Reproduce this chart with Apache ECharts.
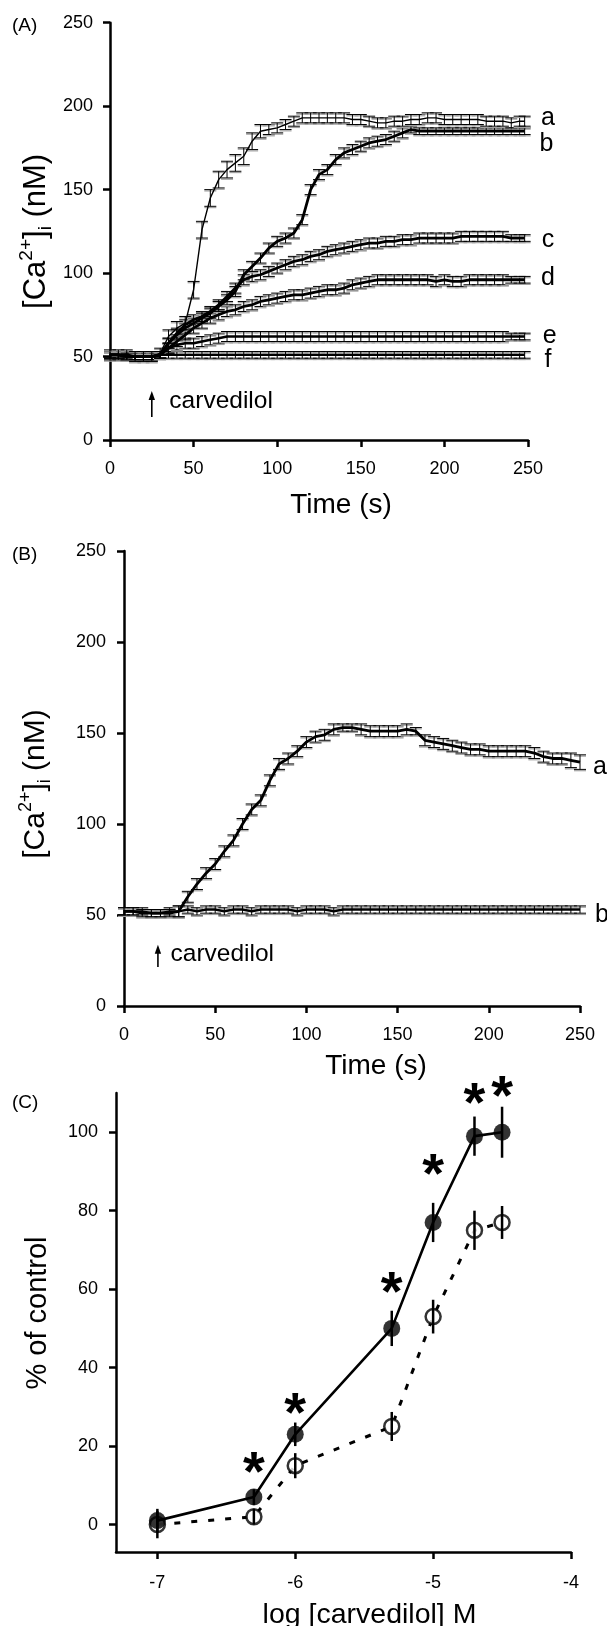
<!DOCTYPE html>
<html><head><meta charset="utf-8">
<script src="https://cdn.jsdelivr.net/npm/echarts@6/dist/echarts.min.js"></script>
<style>html,body{margin:0;padding:0;background:#fff}#c{width:607px;height:1626px}</style>
</head><body><div id="c"></div>
<script>
// ---------- Panel A data (time in s, [Ca2+]i in nM) ----------
const TIME_A = [0,5,10,15,20,25,30,35,40,45,50,55,60,65,70,75,80,85,90,95,100,105,110,115,120,125,130,135,140,145,150,155,160,165,170,175,180,185,190,195,200,205,210,215,220,225,230,235,240,245,248];
const A_a = [51,51,51,50,50,50,52,62,67,70,90,126,145,156,162,166,170,179,185,186,187,189,191,193,193,193,193,193,193,192,192,191,190,190,191,191,192,192,193,193,192,192,192,192,192,191,191,191,190,191,191];
const A_b = [51,51,50,50,50,50,51,58,63,67,70,73,76,80,84,89,99,104,109,115,119,121,124,132,150,159,162,168,172,174,176,178,179,180,182,184,186,185,185,185,185,185,185,185,185,185,185,185,185,185,185];
const A_c = [51,51,51,50,50,50,51,58,64,69,72,74,77,81,86,91,96,98,99,101,103,105,107,108,110,111,113,114,115,116,117,118,118,119,119,120,120,121,121,121,121,121,122,122,122,122,122,122,121,121,121];
const A_d = [51,51,50,50,50,50,51,55,59,63,67,70,73,75,77,78,80,81,83,84,85,86,87,87,88,89,90,90,91,93,94,95,96,96,96,96,96,96,96,95,96,95,95,96,96,96,96,96,96,96,96];
const A_e = [51,51,50,50,50,50,51,55,57,58,58,59,60,61,62,62,62,62,62,62,62,62,62,62,62,62,62,62,62,62,62,62,62,62,62,62,62,62,62,62,62,62,62,62,62,62,62,62,62,62,62];
const A_f = [51,51,50,50,50,50,51,51,51,51,51,51,51,51,51,51,51,51,51,51,51,51,51,51,51,51,51,51,51,51,51,51,51,51,51,51,51,51,51,51,51,51,51,51,51,51,51,51,51,51,51];
const A_a_sem = [3,3,3,3,3,3,3,4,4,4,5,5,5,5,5,5,5,5,4,3,3,3,3,3,3,3,3,3,3,3,3,3,3,3,3,3,3,3,3,3,3,3,3,3,3,3,3,3,3,3,3];
const A_b_sem = [2,2,2,2,2,2,2,3,3,3,3,3,3,3,3,3,3,3,3,3,3,3,3,3,3,3,3,3,3,3,3,3,3,3,3,3,2,2,2,2,2,2,2,2,2,2,2,2,2,2,2];
const A_c_sem = [2,2,2,2,2,2,2,3,3,3,3,3,3,3,3,3,3,3,3,3,3,3,3,3,3,3,3,3,3,3,3,3,3,3,3,3,3,3,3,3,3,3,3,3,3,3,3,3,2,2,2];
const A_d_sem = [2,2,2,2,2,2,2,3,3,3,3,3,3,3,3,3,3,3,3,3,3,3,3,3,3,3,3,3,3,3,3,3,3,3,3,3,3,3,3,3,3,3,3,3,3,3,3,3,2,2,2];
const A_e_sem = [2,2,2,2,2,2,2,3,3,3,3,3,3,3,3,3,3,3,3,3,3,3,3,3,3,3,3,3,3,3,3,3,3,3,3,3,3,3,3,3,3,3,3,3,3,3,3,3,2,2,2];
const A_f_sem = [2,2,2,2,2,2,2,2,2,2,2,2,2,2,2,2,2,2,2,2,2,2,2,2,2,2,2,2,2,2,2,2,2,2,2,2,2,2,2,2,2,2,2,2,2,2,2,2,2,2,2];
const LETTERS_A = ['a','b','c','d','e','f'];
const LETTER_A_T = [262,261,262,262,263,262];
const LETTER_A_V = [193,177,120,97,62,48];

// ---------- Panel B data ----------
const TIME_B = [0,5,10,15,20,25,30,35,40,45,50,55,60,65,70,75,80,85,90,95,100,105,110,115,120,125,130,135,140,145,150,155,160,165,170,175,180,185,190,195,200,205,210,215,220,225,230,235,240,245,250];
const B_a = [52,52,51,51,51,51,52,60,67,73,78,85,91,100,108,113,124,133,136,140,145,148,149,152,153,153,152,151,151,151,151,152,151,146,145,144,143,142,141,141,140,140,140,140,140,139,137,136,136,135,134];
const B_b = [52,52,52,51,51,52,52,53,52,53,53,52,53,53,52,53,53,53,53,52,53,53,53,52,53,53,53,53,53,53,53,53,53,53,53,53,53,53,53,53,53,53,53,53,53,53,53,53,53,53,53];
const B_a_sem = [2,2,2,2,2,2,3,3,3,3,3,3,3,3,3,3,3,3,3,3,3,3,3,3,2,2,3,3,3,3,3,3,2,3,3,3,3,3,3,3,3,3,3,3,3,3,3,3,3,4,4];
const B_b_sem = [2,2,2,2,2,2,3,2,2,2,2,2,2,2,2,2,2,2,2,2,2,2,2,2,2,2,2,2,2,2,2,2,2,2,2,2,2,2,2,2,2,2,2,2,2,2,2,2,2,2,2];
const LETTERS_B = ['a','b'];
const LETTER_B_T = [261,262];
const LETTER_B_V = [131,50];

// carvedilol annotation: arrow [t, vBottom, vTop], text [t, v]
const ARROW_A = [25, 13.8, 29.3];
const TEXT_A = [35.5, 23];
const ARROW_B = [18.6, 21.4, 33.6];
const TEXT_B = [25.5, 28.3];

// ---------- Panel C data ----------
const LOG_CONC = [-7,-6.3,-6,-5.3,-5,-4.7,-4.5];
const FILLED = [1,7,23,50,77,99,100];
const FILLED_ERR = [3,2,3,4.5,5,5,6.5];
const OPEN = [0,2,15,25,53,75,77];
const OPEN_ERR = [3.5,2,3.2,3.7,4.3,5,4.2];
const STAR_X = [-6.3,-6,-5.3,-5,-4.7,-4.5];
const STAR_Y = [16,31,62,92,110,112];
const C_YTICKS = [0,20,40,60,80,100];
const C_XTICKS = [-7,-6,-5,-4];

const FONT = '"Liberation Sans", Arial, Helvetica, sans-serif';
const chart = echarts.init(document.getElementById('c'), null, {renderer:'canvas', width:607, height:1626});

function lineSeries(gi, xs, ys, w, extra){
  return Object.assign({type:'line', xAxisIndex:gi, yAxisIndex:gi, data: xs.map((x,i)=>[x,ys[i]]),
    showSymbol:false, symbol:'none', lineStyle:{color:'#000', width:w}, z:4, silent:true}, extra||{});
}
function capBars(gi, xs, ys, es){
  return {type:'custom', xAxisIndex:gi, yAxisIndex:gi, data: xs.map((x,i)=>[x, ys[i], es[i]]), z:3, silent:true,
    encode:{x:0,y:1}, clip:false,
    renderItem(params, api){
      const x=api.value(0), y=api.value(1), e=api.value(2);
      const hi=api.coord([x,y+e]), lo=api.coord([x,y-e]);
      const h=6;
      return {type:'group', children:[
        {type:'line', shape:{x1:hi[0]-h,y1:hi[1]+1.3,x2:hi[0]+h,y2:hi[1]+1.3}, style:{stroke:'#a0a0a0', lineWidth:1.2}},
        {type:'line', shape:{x1:lo[0]-h,y1:lo[1]+1.3,x2:lo[0]+h,y2:lo[1]+1.3}, style:{stroke:'#a0a0a0', lineWidth:1.2}},
        {type:'line', shape:{x1:hi[0],y1:hi[1],x2:lo[0],y2:lo[1]}, style:{stroke:'#000', lineWidth:1}},
        {type:'line', shape:{x1:hi[0]-h,y1:hi[1],x2:hi[0]+h,y2:hi[1]}, style:{stroke:'#000', lineWidth:1}},
        {type:'line', shape:{x1:lo[0]-h,y1:lo[1],x2:lo[0]+h,y2:lo[1]}, style:{stroke:'#000', lineWidth:1}}
      ]};
    }};
}
function stemBars(gi, xs, ys, es){
  return {type:'custom', xAxisIndex:gi, yAxisIndex:gi, data: xs.map((x,i)=>[x, ys[i], es[i]]), z:6, silent:true,
    encode:{x:0,y:1}, clip:false,
    renderItem(params, api){
      const x=api.value(0), y=api.value(1), e=api.value(2);
      const hi=api.coord([x,y+e]), lo=api.coord([x,y-e]);
      return {type:'line', shape:{x1:hi[0],y1:hi[1],x2:lo[0],y2:lo[1]}, style:{stroke:'#000', lineWidth:2.5}};
    }};
}
const txt = (size, extra)=>Object.assign({color:'#000', fontSize:size, fontFamily:FONT, textBorderWidth:0, textBorderColor:'transparent', opacity:1}, extra||{});
function letterSeries(gi, ts, vs, letters){
  return {type:'scatter', xAxisIndex:gi, yAxisIndex:gi, clip:false, silent:true, symbolSize:0,
    data: ts.map((t,i)=>[t, vs[i], letters[i]]),
    label:Object.assign({show:true, position:'inside', formatter:p=>p.data[2]}, txt(25))};
}
function annotText(gi, text){
  return {type:'scatter', xAxisIndex:gi, yAxisIndex:gi, clip:false, silent:true, symbolSize:0,
    data:[[text[0], text[1]]],
    label:Object.assign({show:true, position:'right', distance:0, formatter:'carvedilol'}, txt(24.5))};
}
function arrowSeries(gi, arrow){
  return {type:'custom', xAxisIndex:gi, yAxisIndex:gi, data:[arrow], silent:true, clip:false, z:10,
    encode:{x:0,y:1},
    renderItem(params, api){
      const b=api.coord([api.value(0), api.value(1)]), t=api.coord([api.value(0), api.value(2)]);
      return {type:'group', children:[
        {type:'line', shape:{x1:b[0],y1:b[1],x2:t[0],y2:t[1]+6}, style:{stroke:'#000', lineWidth:1.6}},
        {type:'polygon', shape:{points:[[t[0],t[1]],[t[0]-3.2,t[1]+9],[t[0]+3.2,t[1]+9]]}, style:{fill:'#000'}}
      ]};
    }};
}
const axisLineStyle = {show:true, onZero:false, lineStyle:{color:'#000', width:2.5}};
const tickStyle = {show:true, length:7, lineStyle:{color:'#000', width:2.5}};
const labelStyle = (m)=>({color:'#000', fontSize:18, fontFamily:FONT, margin:m});
const caName = '{a|[Ca}{sup|2+}{a|]}{sub|i}{a| (nM)}';
const caRich = (fs)=>({a:{fontSize:fs, fontFamily:FONT, color:'#000', lineHeight:fs+7},
  sup:{fontSize:Math.round(fs*0.6), fontFamily:FONT, color:'#000', verticalAlign:'top', lineHeight:fs+7, padding:[0,0,12,0]},
  sub:{fontSize:Math.round(fs*0.6), fontFamily:FONT, color:'#000', verticalAlign:'bottom', lineHeight:fs+7, padding:[7,0,0,0]}});

const option = {
  animation:false,
  backgroundColor:'#fff',
  grid:[
    {left:110, top:22.7, width:418, height:417.3, outerBoundsMode:'none'},
    {left:124, top:551, width:456, height:455, outerBoundsMode:'none'},
    {left:116, top:1093, width:455, height:459, outerBoundsMode:'none'}
  ],
  xAxis:[
    {gridIndex:0, type:'value', min:0, max:250, interval:50, axisLine:axisLineStyle, axisTick:tickStyle,
     axisLabel:labelStyle(20), splitLine:{show:false}, name:'Time (s)', nameLocation:'middle', nameGap:51, nameMoveOverlap:false,
     nameTextStyle:{fontSize:28, fontFamily:FONT, color:'#000', padding:[0,0,0,44]}},
    {gridIndex:1, type:'value', min:0, max:250, interval:50, axisLine:axisLineStyle, axisTick:tickStyle,
     axisLabel:labelStyle(20), splitLine:{show:false}, name:'Time (s)', nameLocation:'middle', nameGap:46, nameMoveOverlap:false,
     nameTextStyle:{fontSize:28, fontFamily:FONT, color:'#000', padding:[0,0,0,48]}},
    {gridIndex:2, type:'value', min:-7.3, max:-4, axisLine:axisLineStyle,
     axisTick:Object.assign({customValues:C_XTICKS}, tickStyle),
     axisLabel:Object.assign({customValues:C_XTICKS}, labelStyle(22)), splitLine:{show:false},
     name:'log [carvedilol] M', nameLocation:'middle', nameGap:49, nameMoveOverlap:false,
     nameTextStyle:{fontSize:28.5, fontFamily:FONT, color:'#000', padding:[0,0,0,52]}}
  ],
  yAxis:[
    {gridIndex:0, type:'value', min:0, max:250, interval:50, axisLine:axisLineStyle, axisTick:tickStyle,
     axisLabel:labelStyle(17), splitLine:{show:false}, name:caName, nameLocation:'middle', nameGap:55, nameMoveOverlap:false,
     nameTextStyle:{rich:caRich(31)}},
    {gridIndex:1, type:'value', min:0, max:250, interval:50, axisLine:axisLineStyle, axisTick:tickStyle,
     axisLabel:labelStyle(18), splitLine:{show:false}, name:caName, nameLocation:'middle', nameGap:70, nameMoveOverlap:false,
     nameTextStyle:{rich:caRich(30), padding:[0,11,0,0]}},
    {gridIndex:2, type:'value', min:-7, max:110, axisLine:axisLineStyle,
     axisTick:Object.assign({customValues:C_YTICKS}, tickStyle),
     axisLabel:Object.assign({customValues:C_YTICKS}, labelStyle(18)), splitLine:{show:false},
     name:'% of control', nameLocation:'middle', nameGap:64, nameMoveOverlap:false,
     nameTextStyle:{fontSize:29, fontFamily:FONT, color:'#000', padding:[0,0,0,19]}}
  ],
  graphic:[
    {type:'text', left:12, top:16, style:{text:'(A)', fontSize:19, fontFamily:FONT, fill:'#000'}},
    {type:'text', left:12, top:545, style:{text:'(B)', fontSize:19, fontFamily:FONT, fill:'#000'}},
    {type:'text', left:12, top:1093, style:{text:'(C)', fontSize:19, fontFamily:FONT, fill:'#000'}}
  ],
  series:[
    capBars(0, TIME_A, A_f, A_f_sem), lineSeries(0, TIME_A, A_f, 2.2),
    capBars(0, TIME_A, A_e, A_e_sem), lineSeries(0, TIME_A, A_e, 2.6),
    capBars(0, TIME_A, A_d, A_d_sem), lineSeries(0, TIME_A, A_d, 2.8),
    capBars(0, TIME_A, A_c, A_c_sem), lineSeries(0, TIME_A, A_c, 2.8),
    capBars(0, TIME_A, A_b, A_b_sem), lineSeries(0, TIME_A, A_b, 2.8),
    capBars(0, TIME_A, A_a, A_a_sem), lineSeries(0, TIME_A, A_a, 1.4),
    letterSeries(0, LETTER_A_T, LETTER_A_V, LETTERS_A),
    annotText(0, TEXT_A), arrowSeries(0, ARROW_A),

    capBars(1, TIME_B, B_b, B_b_sem), lineSeries(1, TIME_B, B_b, 2.4),
    capBars(1, TIME_B, B_a, B_a_sem), lineSeries(1, TIME_B, B_a, 2.8),
    letterSeries(1, LETTER_B_T, LETTER_B_V, LETTERS_B),
    annotText(1, TEXT_B), arrowSeries(1, ARROW_B),

    lineSeries(2, LOG_CONC, OPEN, 3, {lineStyle:{color:'#000', width:3, type:[6,11]}, z:2}),
    {type:'scatter', xAxisIndex:2, yAxisIndex:2, data:LOG_CONC.map((x,i)=>[x,OPEN[i]]), symbol:'circle', symbolSize:15,
     itemStyle:{color:'#fff', borderColor:'#000', borderWidth:2.5}, z:5, silent:true},
    stemBars(2, LOG_CONC, OPEN, OPEN_ERR),
    lineSeries(2, LOG_CONC, FILLED, 2.6, {z:7}),
    stemBars(2, LOG_CONC, FILLED, FILLED_ERR),
    {type:'scatter', xAxisIndex:2, yAxisIndex:2, data:LOG_CONC.map((x,i)=>[x,FILLED[i]]), symbol:'circle', symbolSize:17,
     itemStyle:{color:'#000'}, z:8, silent:true},
    {type:'scatter', xAxisIndex:2, yAxisIndex:2, clip:false, silent:true, symbolSize:0,
     data:STAR_X.map((x,i)=>[x,STAR_Y[i]]),
     label:Object.assign({show:true, position:'inside', formatter:'*', offset:[0,13]}, txt(56, {fontWeight:'bold'}))}
  ]
};
chart.setOption(option);
</script></body></html>
